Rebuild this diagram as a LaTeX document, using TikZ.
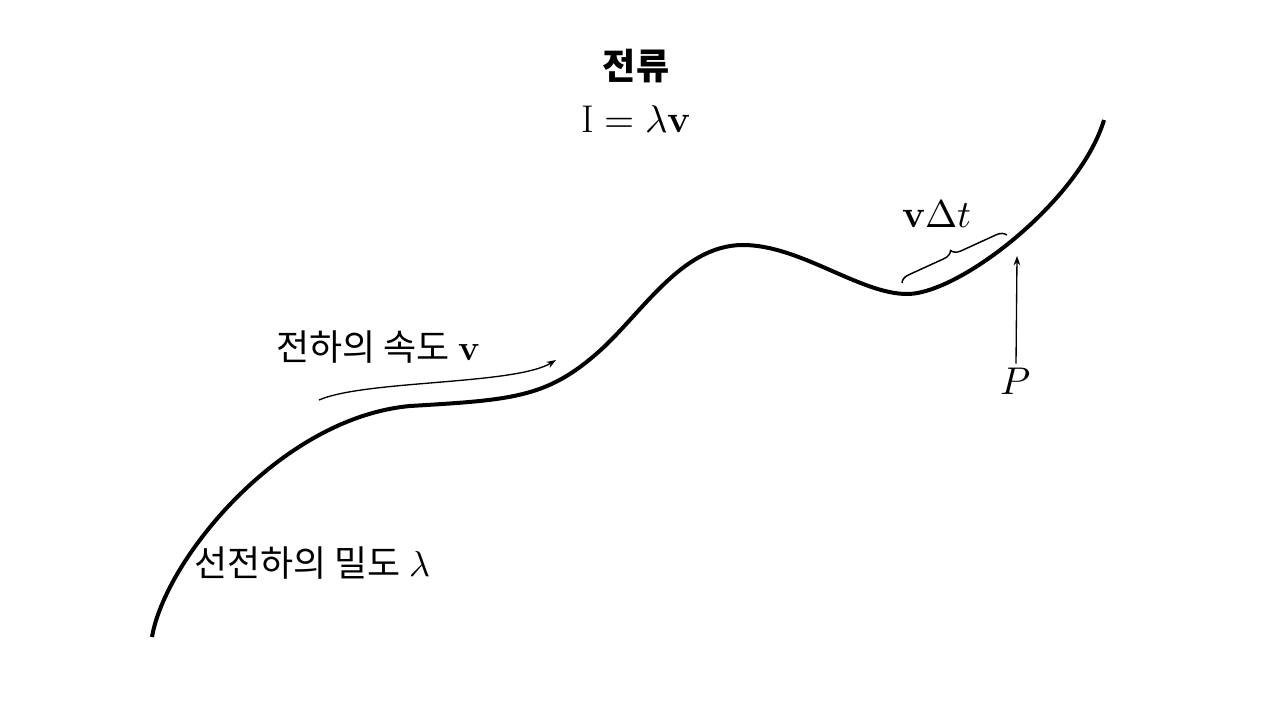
\documentclass[tikz,border=0pt]{standalone}
\usepackage{fontspec}
\usepackage{unicode-math}
\setmathfont{Latin Modern Math}
\newfontfamily\kr{Noto Sans CJK KR}
\usetikzlibrary{decorations.pathreplacing,arrows.meta}
\begin{document}
\begin{tikzpicture}[x=0.75pt,y=-0.75pt,
  wire/.style={line width=3pt},
  thinarrow/.style={line width=1pt,-{Stealth[length=7pt,width=5pt]}},
  krlabel/.style={font=\kr\fontsize{27}{32}\selectfont, inner sep=0pt},
  mathlabel/.style={font=\fontsize{29}{34}\selectfont, inner sep=0pt},
  bracestyle/.style={line width=1.1pt, decorate, decoration={brace, amplitude=7pt}}]
\useasboundingbox (0,0) rectangle (1280,720);
% wire
\draw[wire] (152,637) .. controls (165,560) and (280,418) .. (410,406)
  .. controls (510,400) and (545,398) .. (595,355)
  .. controls (640,317) and (680,245) .. (743,245)
  .. controls (800,245) and (860,294) .. (907,294)
  .. controls (960,294) and (1080,200) .. (1104,120);
% title
\node[krlabel, font=\kr\bfseries\fontsize{27}{32}\selectfont] (title) at (636,66) {전류};
\node[mathlabel] (eq) at (636,119) {$\mathrm{I} = \lambda\mathbf{v}$};
% velocity label and arrow
\node[krlabel, anchor=west] (vel) at (276,347) {전하의 속도 $\mathbf{v}$};
\coordinate (va) at (319,400);
\coordinate (vb) at (556,360);
\draw[thinarrow] (va) .. controls (365,380) and (515,385) .. (vb);
% density label
\node[krlabel, anchor=west] (dens) at (194,563) {선전하의 밀도 $\lambda$};
% brace
\coordinate (ba) at (902,283);
\coordinate (bb) at (1007,235);
\draw[bracestyle] (ba) -- (bb);
\node[mathlabel] (vdt) at (937,214) {$\mathbf{v}\Delta t$};
% point P
\node[mathlabel] (P) at (1016,381) {$P$};
\coordinate (pc) at (1017,256);
\draw[thinarrow] (P.north) ++(0,-4) -- (pc);
\end{tikzpicture}
\end{document}
